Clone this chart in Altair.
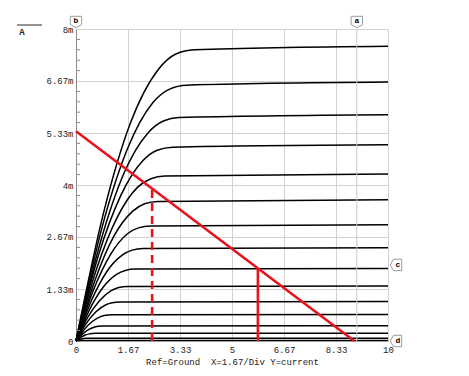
import altair as alt
import pandas as pd

FONT = "Liberation Mono"

# axis ticks / labels
X_TICKS = [0, 1.66667, 3.33333, 5, 6.66667, 8.33333, 10]
X_LABELS = ['0', '1.67', '3.33', '5', '6.67', '8.33', '10']
Y_TICKS = [0, 1.33333, 2.66667, 4, 5.33333, 6.66667, 8]
Y_LABELS = ['0', '1.33m', '2.67m', '4m', '5.33m', '6.67m', '8m']
Y_MINOR = [0.267, 0.533, 0.8, 1.067, 1.6, 1.867, 2.133, 2.4, 2.933, 3.2, 3.467, 3.733,
           4.267, 4.533, 4.8, 5.067, 5.6, 5.867, 6.133, 6.4, 6.933, 7.2, 7.467, 7.733]
X_TITLE = "Ref=Ground\u00a0\u00a0X=1.67/Div Y=current"

# output characteristic curves, each as (Vds, I in mA) points
CURVES = [
    [(0, 0), (0.875, 3.26), (1.75, 5.60), (2.625, 6.95), (3.2, 7.36), (3.8, 7.47), (10, 7.56)],
    [(0, 0), (0.82, 2.87), (1.64, 4.91), (2.46, 6.11), (3.0, 6.46), (3.55, 6.56), (10, 6.64)],
    [(0, 0), (0.77, 2.50), (1.53, 4.29), (2.30, 5.33), (2.8, 5.64), (3.3, 5.73), (10, 5.80)],
    [(0, 0), (0.71, 2.17), (1.43, 3.72), (2.14, 4.62), (2.6, 4.89), (3.1, 4.97), (10, 5.03)],
    [(0, 0), (0.66, 1.85), (1.32, 3.17), (1.97, 3.94), (2.4, 4.16), (2.85, 4.23), (10, 4.28)],
    [(0, 0), (0.61, 1.56), (1.21, 2.68), (1.82, 3.33), (2.2, 3.52), (2.62, 3.58), (10, 3.62)],
    [(0, 0), (0.55, 1.29), (1.10, 2.21), (1.65, 2.75), (2.0, 2.90), (2.4, 2.95), (10, 2.98)],
    [(0, 0), (0.49, 1.03), (0.98, 1.77), (1.48, 2.20), (1.8, 2.33), (2.15, 2.37), (10, 2.39)],
    [(0, 0), (0.43, 0.80), (0.87, 1.38), (1.30, 1.71), (1.58, 1.81), (1.9, 1.845), (10, 1.86)],
    [(0, 0), (0.38, 0.61), (0.76, 1.04), (1.13, 1.29), (1.37, 1.37), (1.65, 1.395), (10, 1.41)],
    [(0, 0), (0.32, 0.44), (0.64, 0.75), (0.96, 0.93), (1.16, 0.98), (1.4, 1.00), (10, 1.01)],
    [(0, 0), (0.26, 0.29), (0.52, 0.50), (0.79, 0.625), (0.95, 0.66), (1.15, 0.672), (10, 0.68)],
    [(0, 0), (0.20, 0.17), (0.40, 0.29), (0.60, 0.357), (0.72, 0.378), (0.88, 0.386), (10, 0.39)],
    [(0, 0), (0.14, 0.086), (0.28, 0.148), (0.43, 0.183), (0.52, 0.193), (0.62, 0.197), (10, 0.20)],
    [(0, 0), (0.08, 0.03), (0.17, 0.052), (0.25, 0.064), (0.31, 0.068), (0.37, 0.069), (10, 0.07)],
    [(0, 0), (0.05, 0.008), (0.15, 0.01), (10, 0.012)],
]

# load line and operating-point drops
LOAD_X = [0, 8.92]
LOAD_I = [5.38, 0]
DROP_X = [2.44, 5.83]
DROP_I = [3.91, 1.86]
DROP_DASHED = [True, False]

# cursors
TOP_CURSORS = ['a', 'b']
TOP_CURSOR_X = [9.0, 0]
RIGHT_CURSORS = ['c', 'd']
RIGHT_CURSOR_I = [1.95, 0]

W, H = 312, 312

rows = []
for k, pts in enumerate(CURVES):
    for j, (x, i) in enumerate(pts):
        rows.append({"curve": k, "order": j, "x": x, "i": i})
curves_df = pd.DataFrame(rows)

xs = alt.Scale(domain=[0, 10], nice=False, zero=False)
ys = alt.Scale(domain=[0, 8], nice=False, zero=False)

x_lab = "[" + ",".join("'%s'" % s for s in X_LABELS) + "][round(datum.value/1.666667)]"
y_lab = "[" + ",".join("'%s'" % s for s in Y_LABELS) + "][round(datum.value/1.333333)]"

X_AXIS = alt.Axis(
    values=X_TICKS, labelExpr=x_lab, grid=True, gridColor="#d2d2d2",
    domain=False, ticks=False, labelFont=FONT, labelFontSize=9, labelColor="#222",
    labelPadding=4, labelFlush=False, labelOverlap=False,
    title=X_TITLE, titleFont=FONT, titleFontSize=9,
    titleFontWeight="normal", titleColor="#222", titlePadding=3)
Y_AXIS = alt.Axis(
    values=Y_TICKS, labelExpr=y_lab, grid=True, gridColor="#d2d2d2",
    domain=True, domainColor="#8a8a8a", ticks=False, labelFont=FONT, labelFontSize=9,
    labelColor="#222", labelPadding=3, labelFlush=False, labelOverlap=False, title=None)


def X(field="x"):
    return alt.X(field + ":Q", scale=xs, axis=X_AXIS, title=X_TITLE)


def Y(field="i"):
    return alt.Y(field + ":Q", scale=ys, axis=Y_AXIS, title=None)


curves = alt.Chart(curves_df).mark_line(color="black", strokeWidth=1.5, interpolate="monotone").encode(
    x=X(), y=Y(), detail="curve:N", order="order:Q")

minor = alt.Chart(pd.DataFrame({"i": Y_MINOR})).mark_rule(color="#8a8a8a", strokeWidth=1).encode(
    y=Y(), x=alt.value(0), x2=alt.value(4))

cursor_line = alt.Chart(pd.DataFrame({"x": [TOP_CURSOR_X[0]]})).mark_rule(color="#c8c8c8", strokeWidth=1).encode(
    x=X())

load = alt.Chart(pd.DataFrame({"x": LOAD_X, "i": LOAD_I})).mark_line(color="#e8141c", strokeWidth=2.6).encode(
    x=X(), y=Y())

drops_df = pd.DataFrame({"x": DROP_X, "i": DROP_I, "dashed": DROP_DASHED, "z": [0, 0]})
drop_dash = alt.Chart(drops_df[drops_df.dashed]).mark_rule(color="#e8141c", strokeWidth=2.6, strokeDash=[8, 5]).encode(
    x=X(), y=Y("z"), y2="i:Q")
drop_solid = alt.Chart(drops_df[~drops_df.dashed]).mark_rule(color="#e8141c", strokeWidth=2.6).encode(
    x=X(), y=Y("z"), y2="i:Q")

DOWN = "M -1 -1 L 1 -1 L 1 0.45 L 0 1 L -1 0.45 Z"
LEFT = "M -1 0 L -0.45 -1 L 1 -1 L 1 1 L -0.45 1 Z"

top_df = pd.DataFrame({"x": TOP_CURSOR_X, "name": TOP_CURSORS})
top_box = alt.Chart(top_df).mark_point(shape=DOWN, size=130, filled=True, fill="white",
                                       stroke="#9a9a9a", strokeWidth=1, opacity=1).encode(
    x=X(), y=alt.value(-7))
top_txt = alt.Chart(top_df).mark_text(font=FONT, fontSize=8, color="black", fontWeight="bold").encode(
    x=X(), y=alt.value(-8), text="name:N")

right_df = pd.DataFrame({"i": RIGHT_CURSOR_I, "name": RIGHT_CURSORS})
right_box = alt.Chart(right_df).mark_point(shape=LEFT, size=130, filled=True, fill="white",
                                           stroke="#9a9a9a", strokeWidth=1, opacity=1).encode(
    y=Y(), x=alt.value(W + 8))
right_txt = alt.Chart(right_df).mark_text(font=FONT, fontSize=8, color="black", fontWeight="bold", dx=1).encode(
    y=Y(), x=alt.value(W + 9), text="name:N")

legend_line = alt.Chart(pd.DataFrame({"t": ["A"]})).mark_rule(color="#707070", strokeWidth=1.5).encode(
    x=alt.value(-59), x2=alt.value(-34), y=alt.value(-4))
legend_txt = alt.Chart(pd.DataFrame({"t": ["A"]})).mark_text(font=FONT, fontSize=9, color="#222", fontWeight="bold").encode(
    x=alt.value(-54), y=alt.value(3), text="t:N")

chart = alt.layer(
    curves, minor, cursor_line, load, drop_dash, drop_solid,
    top_box, top_txt, right_box, right_txt, legend_line, legend_txt
).properties(
    width=W, height=H,
    autosize=alt.AutoSizeParams(type="none"),
    padding={"left": 68, "top": 21, "right": 60, "bottom": 30},
    background="white",
).configure_view(stroke=None)

chart.save("out.html", embed_options={"renderer": "svg", "actions": False})
